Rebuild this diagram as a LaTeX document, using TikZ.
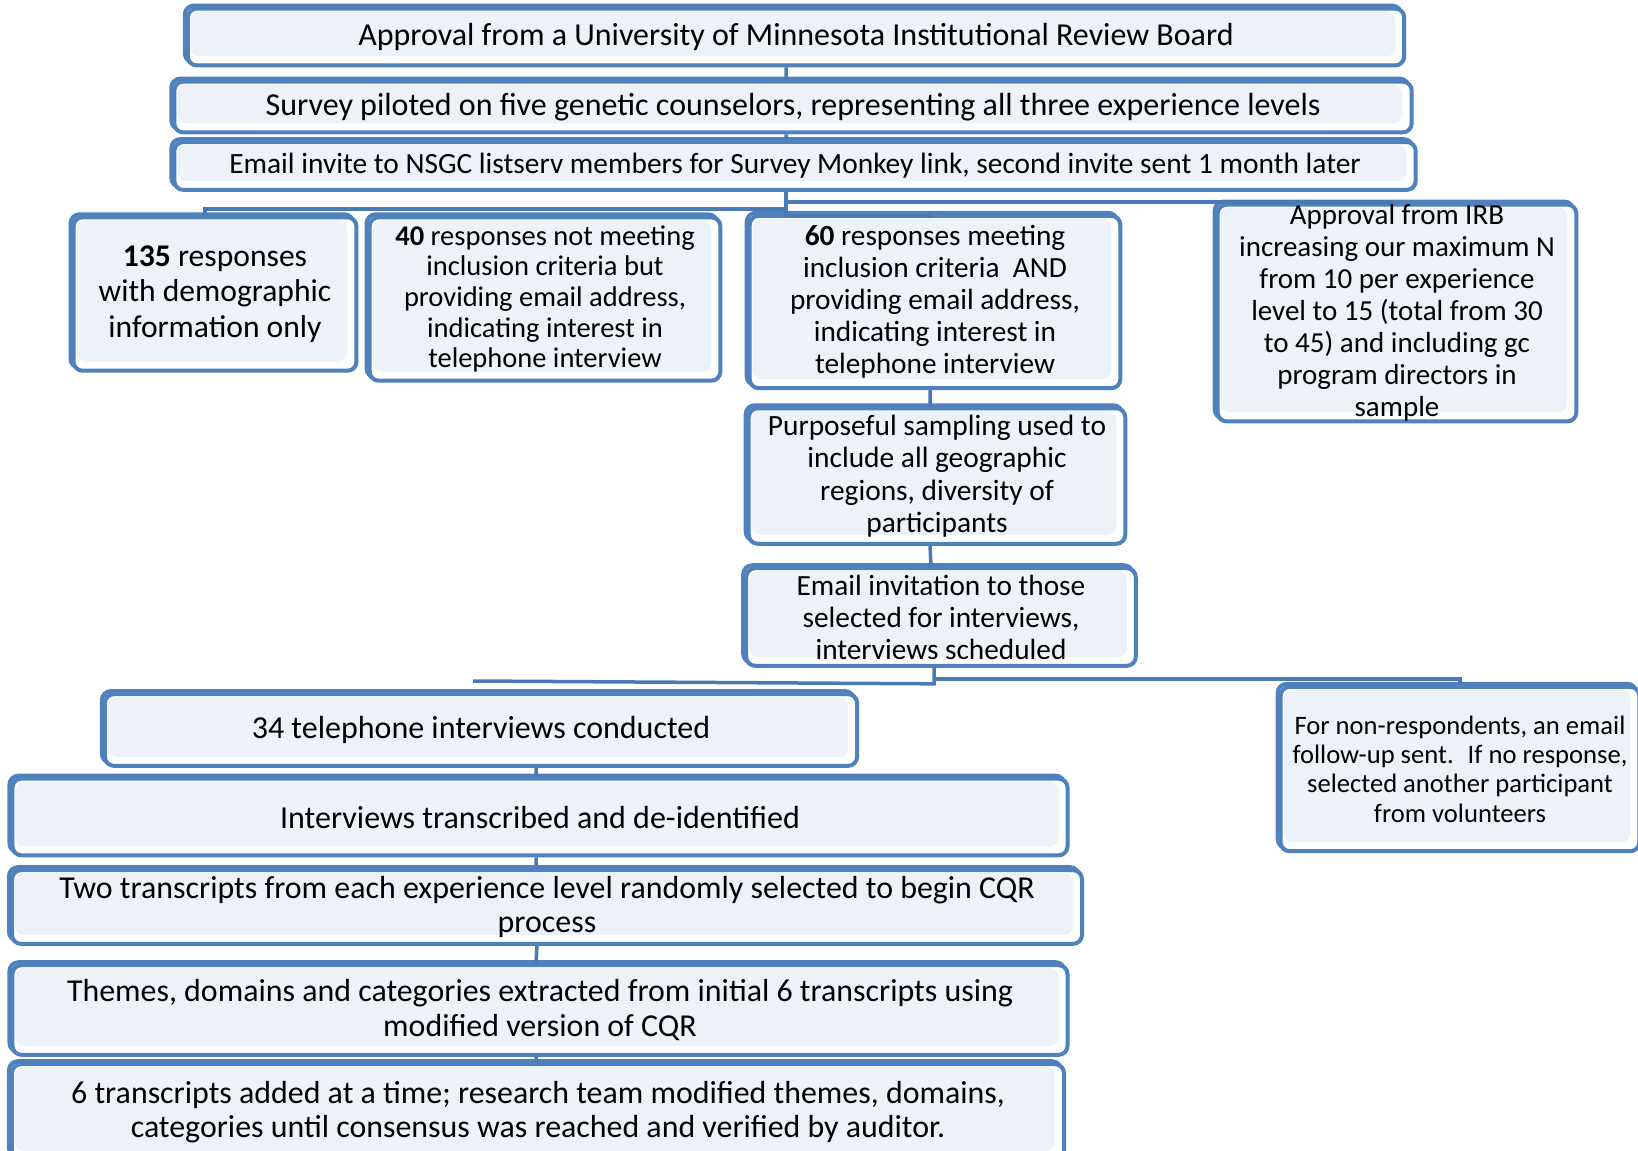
\documentclass[tikz,border=0pt]{standalone}
\usepackage{fontspec}
\setmainfont{Carlito}
\definecolor{bord}{HTML}{4F81BD}
\definecolor{boxfill}{HTML}{EDF1F8}
\definecolor{conncol}{HTML}{4A7AB5}
\newcommand{\fs}[2]{\fontsize{#1bp}{#2bp}\selectfont}
\begin{document}
\begin{tikzpicture}[x=1bp,y=-1bp,
  box/.style={draw=bord, line width=4bp, rounded corners=9bp, fill=white, inner sep=0pt, align=center, text=black,
    preaction={draw=bord, line width=4bp, fill=none, transform canvas={xshift=-3bp,yshift=3bp}},
    path picture={\fill[boxfill] ([xshift=3bp,yshift=-3bp]path picture bounding box.north west) rectangle ([xshift=-9bp,yshift=9bp]path picture bounding box.south east);}},
  conn/.style={draw=conncol, line width=3.5bp}
]
\useasboundingbox (0,0) rectangle (1638,1150);

\node[box, minimum width=1221, minimum height=57, font=\fs{32}{36}] (top) at (796,37) {Approval from a University of Minnesota Institutional Review Board};
\node[box, minimum width=1242, minimum height=51, font=\fs{32}{36}] (survey) at (793,107) {Survey piloted on five genetic counselors, representing all three experience levels};
\node[box, minimum width=1246, minimum height=48, font=\fs{29.4}{33}] (invite) at (795,166) {Email invite to NSGC listserv members for Survey Monkey link, second invite sent 1 month later};

\node[box, minimum width=284, minimum height=154, font=\fs{31.6}{35.5}] (r135) at (215,294) {\textbf{135} responses\\with demographic\\information only};
\node[box, minimum width=352, minimum height=164, font=\fs{28.5}{30.6}] (r40) at (545,299) {\textbf{40} responses not meeting\\inclusion criteria but\\providing email address,\\indicating interest in\\telephone interview};
\node[box, minimum width=372, minimum height=173, font=\fs{29.3}{32}] (r60) at (935,302) {\textbf{60} responses meeting\\inclusion criteria~ AND\\providing email address,\\indicating interest in\\telephone interview};
\node[box, minimum width=360, minimum height=214, font=\fs{29}{32}] (irb) at (1397,313) {Approval from IRB\\increasing our maximum N\\from 10 per experience\\level to 15 (total from 30\\to 45) and including gc\\program directors in\\sample};
\node[box, minimum width=378, minimum height=136, font=\fs{29.4}{32.4}] (purp) at (937,476) {Purposeful sampling used to\\include all geographic\\regions, diversity of\\participants};
\node[box, minimum width=391, minimum height=98, font=\fs{29.3}{32}] (einv) at (941,617) {Email invitation to those\\selected for interviews,\\interviews scheduled};

\node[box, minimum width=755, minimum height=72, font=\fs{32}{36}] (tel) at (481,730) {34 telephone interviews conducted};
\node[box, minimum width=360, minimum height=165, font=\fs{26.6}{29.3}] (nonr) at (1460,769) {For non-respondents, an email\\follow-up sent.~ If no response,\\selected another participant\\from volunteers};
\node[box, minimum width=1059, minimum height=77, font=\fs{32}{36}] (trans) at (540,817) {Interviews transcribed and de-identified};
\node[box, minimum width=1074, minimum height=74, font=\fs{31.9}{34.5}] (two) at (547,907) {Two transcripts from each experience level randomly selected to begin CQR\\process};
\node[box, minimum width=1059, minimum height=90, font=\fs{31.9}{34.5}] (themes) at (540,1010) {Themes, domains and categories extracted from initial 6 transcripts using\\modified version of CQR};
\node[box, minimum width=1056, minimum height=96, font=\fs{31.9}{34.5}] (six) at (538,1112) {6 transcripts added at a time; research team modified themes, domains,\\categories until consensus was reached and verified by auditor.};

% connectors
\draw[conn] ([xshift=-10bp]top.south) -- ([xshift=-7bp]survey.north);
\draw[conn] ([xshift=-7bp]survey.south) -- ([xshift=-9bp]invite.north);

\draw[conn] ([xshift=-9bp]invite.south) -- ++(0,24);
\draw[conn] ([xshift=-9bp]invite.south) ++(0,17) -| ([xshift=-10bp]r135.north);
\draw[conn] ([xshift=-9bp]invite.south) ++(0,10) -| ([xshift=-5bp]irb.north);
\draw[conn] ([xshift=-9bp]invite.south) ++(0,24) -| ([xshift=-5bp]r60.north);

\draw[conn] ([xshift=-5bp]r60.south) -- ([xshift=-7bp]purp.north);
\draw[conn] ([xshift=-7bp]purp.south) -- ([xshift=-10bp]einv.north);

\coordinate (busL) at (473,681);
\draw[conn] ([xshift=-7bp]einv.south) -- ++(0,16) -- (busL);
\draw[conn] ([xshift=-7bp]einv.south) ++(0,11) -| (nonr.north);

\draw[conn] ([xshift=55bp]tel.south) -- ([xshift=-4bp]trans.north);
\draw[conn] ([xshift=-4bp]trans.south) -- ([xshift=-11bp]two.north);
\draw[conn] ([xshift=-10bp]two.south) -- ([xshift=-4bp]themes.north);
\draw[conn] ([xshift=-4bp]themes.south) -- ([xshift=-2bp]six.north);
\end{tikzpicture}
\end{document}
